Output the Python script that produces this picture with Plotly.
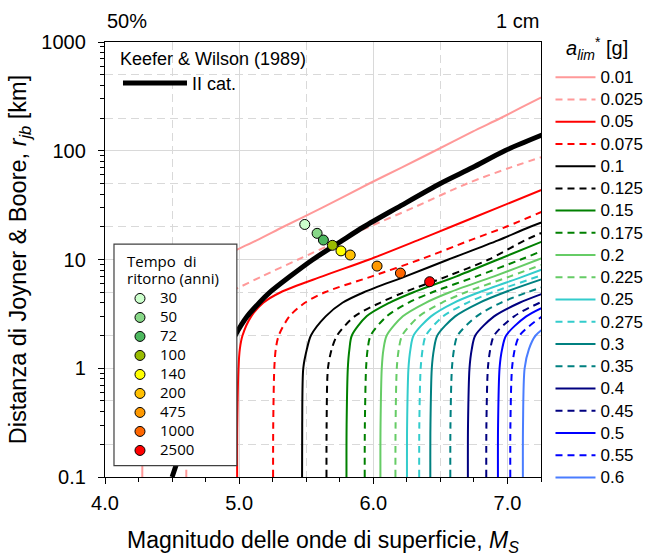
import plotly.graph_objects as go

# ---------------- data ----------------
# distance levels (km) at which each curve's magnitude was read
R_LEVELS = [0.1, 0.3, 1, 1.5, 2, 3, 4, 5, 7, 10, 15, 20, 30, 50, 70, 100, 150, 200, 300, 500]

A_LIM_LABELS = ["0.01", "0.025", "0.05", "0.075", "0.1", "0.125", "0.15", "0.175", "0.2",
                "0.225", "0.25", "0.275", "0.3", "0.35", "0.4", "0.45", "0.5", "0.55", "0.6"]

M_0010 = [4.278, 4.279, 4.283, 4.288, 4.30, 4.34, 4.39, 4.45, 4.60, 4.83, 5.13, 5.33, 5.62, 5.97, 6.21, 6.46, 6.74, 6.95, 7.23, 7.60]
M_0025 = [4.606, 4.607, 4.612, 4.625, 4.645, 4.71, 4.80, 4.93, 5.17, 5.44, 5.75, 5.97, 6.30, 6.70, 7.02, 7.40]
M_0050 = [4.985, 4.986, 4.995, 5.005, 5.025, 5.09, 5.18, 5.31, 5.62, 5.97, 6.33, 6.58, 6.93, 7.37]
M_0075 = [5.253, 5.254, 5.262, 5.273, 5.295, 5.375, 5.49, 5.64, 5.99, 6.35, 6.72, 6.99, 7.33]
M_0100 = [5.469, 5.470, 5.478, 5.505, 5.535, 5.645, 5.77, 5.93, 6.24, 6.56, 6.93, 7.17, 7.55]
M_0125 = [5.651, 5.652, 5.662, 5.69, 5.73, 5.86, 6.05, 6.23, 6.55, 6.86, 7.13, 7.36]
M_0150 = [5.800, 5.801, 5.810, 5.822, 5.84, 5.95, 6.12, 6.30, 6.62, 6.93, 7.28]
M_0175 = [5.936, 5.937, 5.946, 5.958, 5.98, 6.10, 6.26, 6.44, 6.77, 7.10, 7.45]
M_0200 = [6.053, 6.054, 6.063, 6.076, 6.10, 6.22, 6.39, 6.57, 6.90, 7.23, 7.60]
M_0225 = [6.165, 6.166, 6.175, 6.19, 6.215, 6.34, 6.51, 6.69, 7.02, 7.36]
M_0250 = [6.251, 6.252, 6.262, 6.277, 6.30, 6.43, 6.60, 6.79, 7.12, 7.46]
M_0275 = [6.342, 6.343, 6.353, 6.368, 6.392, 6.52, 6.70, 6.89, 7.23, 7.57]
M_0300 = [6.425, 6.426, 6.436, 6.452, 6.477, 6.61, 6.79, 6.98, 7.32]
M_0350 = [6.574, 6.575, 6.586, 6.602, 6.628, 6.77, 6.95, 7.15, 7.50]
M_0400 = [6.705, 6.706, 6.717, 6.734, 6.76, 6.90, 7.09, 7.29]
M_0450 = [6.842, 6.843, 6.854, 6.872, 6.90, 7.05, 7.24, 7.45]
M_0500 = [6.929, 6.930, 6.941, 6.96, 6.99, 7.14, 7.34]
M_0550 = [7.021, 7.022, 7.034, 7.055, 7.09, 7.26, 7.46]
M_0600 = [7.115, 7.116, 7.128, 7.16, 7.21, 7.40]

# Keefer & Wilson (1989), II category boundary
M_IICAT = [4.50, 4.64, 4.85, 4.92, 4.97, 5.06, 5.15, 5.23, 5.38, 5.55, 5.77, 5.93, 6.18, 6.50, 6.74, 6.98, 7.32]

# return-period points
TR_LABELS = ["30", "50", "72", "100", "140", "200", "475", "1000", "2500"]
TR_MS = [5.489, 5.581, 5.628, 5.695, 5.759, 5.828, 6.028, 6.202, 6.420]
TR_RJB = [21.0, 17.4, 15.1, 13.5, 12.0, 11.0, 8.7, 7.5, 6.25]

# ---------------- styles ----------------
CURVE_COLORS = ["#FF9999", "#FF9999", "#FF0000", "#FF0000", "#000000", "#000000",
                "#008000", "#008000", "#66CC66", "#66CC66", "#33CCCC", "#33CCCC",
                "#008080", "#008080", "#000080", "#000080", "#0000FF", "#0000FF", "#4A7DFF"]
CURVE_DASHES = ["solid", "7px,5px", "solid", "7px,5px", "solid", "7px,5px", "solid", "7px,5px",
                "solid", "7px,5px", "solid", "7px,5px", "solid", "7px,5px", "solid", "7px,5px",
                "solid", "7px,5px", "solid"]
TR_COLORS = ["#CCFFCC", "#88D888", "#4DB85F", "#99BB00", "#FFFF00", "#FFC000", "#FF9900", "#FF6600", "#FF0000"]

M_CURVES = [M_0010, M_0025, M_0050, M_0075, M_0100, M_0125, M_0150, M_0175, M_0200, M_0225,
            M_0250, M_0275, M_0300, M_0350, M_0400, M_0450, M_0500, M_0550, M_0600]

FONT = "Liberation Sans, Arial, sans-serif"
FONT2 = "Open Sans, Noto Sans, sans-serif"

# plot-area geometry in pixels (for placing legends/annotations)
W, H = 648, 558
L, R, T, B = 105, 106.5, 41.5, 80.5
PW, PH = W - L - R, H - T - B


def px2x(px):
    return (px - L) / PW


def px2y(py):
    return (H - B - py) / PH


fig = go.Figure()

# invisible trace carrying the overlay axes used for dashed gridlines
fig.add_trace(go.Scatter(x=[None], y=[None], xaxis="x2", yaxis="y2", showlegend=False,
                         hoverinfo="skip"))

for lab, ms, col, dash in zip(A_LIM_LABELS, M_CURVES, CURVE_COLORS, CURVE_DASHES):
    fig.add_trace(go.Scatter(
        x=ms, y=R_LEVELS[:len(ms)], mode="lines",
        line=dict(color=col, width=2, dash=dash, shape="spline", smoothing=0.8),
        name=f'<span style="font-size:17px">{lab}</span>', legend="legend"))

fig.add_trace(go.Scatter(
    x=M_IICAT, y=R_LEVELS[:len(M_IICAT)], mode="lines",
    line=dict(color="black", width=5, shape="spline", smoothing=0.8),
    name='<span style="font-size:18px">II cat.</span>', legend="legend3"))

for lab, m, r, c in zip(TR_LABELS, TR_MS, TR_RJB, TR_COLORS):
    fig.add_trace(go.Scatter(
        x=[m], y=[r], mode="markers",
        marker=dict(size=10, color=c, line=dict(color="black", width=1)),
        name=f'<span style="font-size:15px">{lab}</span>', legend="legend2"))

x_minor = [4.25, 4.5, 4.75, 5.25, 5.5, 5.75, 6.25, 6.5, 6.75, 7.25]
y_minor = [k * 10.0 ** e for e in (-1, 0, 1, 2) for k in range(2, 10)]

grid_col = "#d9d9d9"

fig.update_layout(
    width=W, height=H,
    margin=dict(l=L, r=R, t=T, b=B, autoexpand=False),
    paper_bgcolor="white", plot_bgcolor="white",
    font=dict(family=FONT, color="black", size=20),
    showlegend=True,
    xaxis=dict(
        range=[4, 7.25], tickvals=[4, 5, 6, 7], ticktext=["4.0", "5.0", "6.0", "7.0"],
        ticks="outside", ticklen=6, tickwidth=1, tickcolor="black",
        showline=True, linecolor="black", linewidth=1.3, mirror=True,
        showgrid=True, gridcolor=grid_col, gridwidth=1, zeroline=False,
        minor=dict(tickvals=x_minor, ticks="outside", ticklen=4, tickcolor="black", showgrid=False),
        tickfont=dict(size=20), ticklabelstandoff=2,
        title=dict(text="Magnitudo delle onde di superficie, <i>M</i><sub><i>S</i></sub>",
                   font=dict(size=23), standoff=18),
    ),
    xaxis2=dict(
        overlaying="x", range=[4, 7.25], tickvals=[4.5, 5.5, 6.5], showgrid=True,
        griddash="8px,5px", gridcolor=grid_col, gridwidth=1, showticklabels=False,
        ticks="", showline=False, zeroline=False,
    ),
    yaxis=dict(
        type="log", range=[-1, 3], tickvals=[0.1, 1, 10, 100, 1000],
        ticktext=["0.1", "1", "10", "100", "1000"],
        ticks="outside", ticklen=6, tickwidth=1, tickcolor="black",
        showline=True, linecolor="black", linewidth=1.3, mirror=True,
        showgrid=True, gridcolor=grid_col, gridwidth=1, zeroline=False,
        minor=dict(tickvals=y_minor, ticks="outside", ticklen=4, tickcolor="black", showgrid=False),
        tickfont=dict(size=20), ticklabelstandoff=8,
        title=dict(text="Distanza di Joyner & Boore, <i>r</i><sub><i>jb</i></sub> [km]",
                   font=dict(size=23.5), standoff=8),
    ),
    yaxis2=dict(
        type="log", overlaying="y", range=[-1, 3],
        tickvals=[0.2, 0.5, 2, 5, 20, 50, 200, 500], showgrid=True,
        griddash="8px,5px", gridcolor=grid_col, gridwidth=1, showticklabels=False,
        ticks="", showline=False, zeroline=False,
    ),
    legend=dict(
        x=px2x(551), xanchor="left", y=px2y(60.6), yanchor="top",
        bgcolor="rgba(0,0,0,0)", borderwidth=0, itemwidth=40, maxheight=900,
        font=dict(family=FONT, size=14.8),
    ),
    legend2=dict(
        x=px2x(120), xanchor="left", y=px2y(284), yanchor="top",
        bgcolor="rgba(0,0,0,0)", borderwidth=0, itemwidth=30,
        font=dict(family=FONT2, size=12),
    ),
    legend3=dict(
        x=px2x(118), xanchor="left", y=px2y(41), yanchor="top",
        bgcolor="rgba(0,0,0,0)", borderwidth=0, itemwidth=64,
        font=dict(family=FONT, size=18),
        title=dict(text="Keefer & Wilson (1989)", font=dict(family=FONT, size=18)),
    ),
    shapes=[
        dict(type="rect", xref="paper", yref="paper",
             x0=px2x(114), x1=px2x(237), y0=px2y(466), y1=px2y(244),
             fillcolor="white", line=dict(color="#404040", width=1.2), layer="above"),
    ],
    annotations=[
        dict(text="50%", xref="paper", yref="paper", x=0, y=px2y(20), xanchor="left",
             yanchor="middle", showarrow=False, font=dict(size=20)),
        dict(text="1 cm", xref="paper", yref="paper", x=1, y=px2y(20), xanchor="right",
             yanchor="middle", showarrow=False, font=dict(size=20)),
        dict(text="<i>a</i><sub><i>lim</i></sub><sup>*</sup> [g]", xref="paper", yref="paper",
             x=px2x(565), y=px2y(48), xanchor="left", yanchor="middle", showarrow=False,
             font=dict(size=20)),
        dict(text="Tempo  di", xref="paper", yref="paper", x=px2x(125), y=px2y(261), xanchor="left",
             yanchor="middle", showarrow=False, font=dict(family=FONT2, size=15)),
        dict(text="ritorno (anni)", xref="paper", yref="paper", x=px2x(125), y=px2y(278), xanchor="left",
             yanchor="middle", showarrow=False, font=dict(family=FONT2, size=15)),
    ],
)

fig.write_html("out.html")
